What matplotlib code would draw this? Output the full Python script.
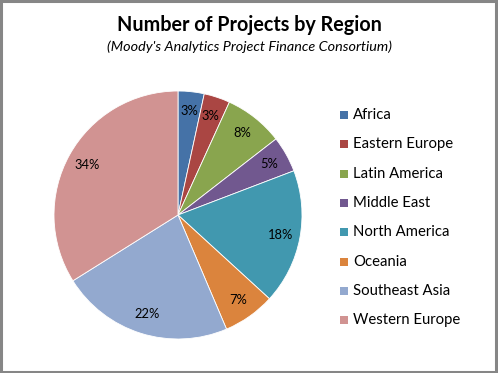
import matplotlib.pyplot as plt
from matplotlib.patches import Rectangle

regions = ['Africa', 'Eastern Europe', 'Latin America', 'Middle East',
           'North America', 'Oceania', 'Southeast Asia', 'Western Europe']
shares = [3.4, 3.4, 7.7, 4.7, 17.6, 6.8, 22.5, 33.9]
colors = ['#4572A7', '#AA4643', '#89A54E', '#71588F',
          '#4198AF', '#DB843D', '#93A9CF', '#D19392']

plt.rcParams['font.family'] = ['Lato', 'DejaVu Sans']

fig = plt.figure(figsize=(4.98, 3.73), dpi=100)
W, H = 498, 373

# pie centred around (178, 215) px, radius ~124 px
r = 124
ax = fig.add_axes([(178 - r) / W, 1 - (215 + r) / H, 2 * r / W, 2 * r / H])
wedges, texts, autotexts = ax.pie(shares, colors=colors, startangle=90, counterclock=False,
                                  autopct='%.0f%%', pctdistance=0.84,
                                  wedgeprops=dict(edgecolor='white', linewidth=0.6),
                                  textprops=dict(fontsize=9.3, color='#000000'))
ax.set_xlim(-1, 1)
ax.set_ylim(-1, 1)
ax.set_aspect('equal')

fig.text(0.5, 1 - 25 / H, 'Number of Projects by Region', ha='center', va='center',
         fontsize=14.2, fontweight='bold')
fig.text(0.5, 1 - 47 / H, "(Moody's Analytics Project Finance Consortium)", ha='center',
         va='center', fontsize=10.4, style='italic')

# legend drawn as squares + labels
for i, (name, c) in enumerate(zip(regions, colors)):
    y = 115 + i * 29.3
    fig.patches.append(Rectangle((340 / W, 1 - (y + 4) / H), 8 / W, 8 / H,
                                 transform=fig.transFigure, facecolor=c, edgecolor='none'))
    fig.text(353 / W, 1 - y / H, name, ha='left', va='center', fontsize=10.7)

fig.patches.append(Rectangle((0.002, 0.003), 0.994, 0.993, transform=fig.transFigure,
                             fill=False, edgecolor='#868686', linewidth=2.2))

fig.savefig('out.png', dpi=100)
